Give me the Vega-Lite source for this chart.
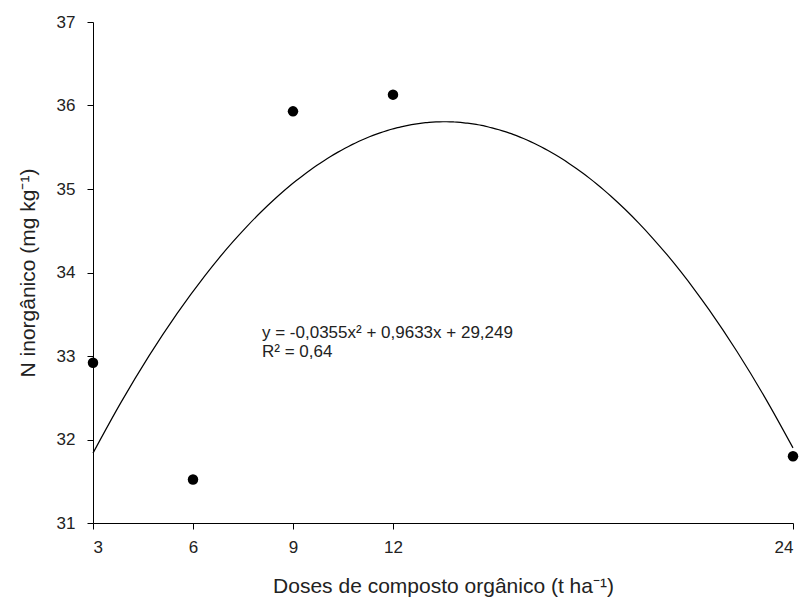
{
  "$schema": "https://vega.github.io/schema/vega-lite/v6.json",
  "width": 700,
  "height": 501,
  "autosize": "none",
  "padding": {"left": 93, "top": 22, "right": 12, "bottom": 84},
  "background": "white",
  "config": {
    "view": {"stroke": null},
    "font": "Liberation Sans",
    "axis": {
      "grid": false,
      "domainColor": "black",
      "tickColor": "black",
      "labelColor": "#222",
      "titleColor": "#222",
      "labelFont": "Liberation Sans",
      "titleFont": "Liberation Sans",
      "labelFontSize": 17,
      "titleFontSize": 21,
      "titleFontWeight": "normal",
      "tickSize": 6
    }
  },
  "datasets": {
    "pts": [
      {"dose": 3, "n": 32.92},
      {"dose": 6, "n": 31.52},
      {"dose": 9, "n": 35.93},
      {"dose": 12, "n": 36.13},
      {"dose": 24, "n": 31.8}
    ],
    "eq": [
      {"x": 8.07, "y": 33.28, "label": "y = -0,0355x² + 0,9633x + 29,249"},
      {"x": 8.07, "y": 33.05, "label": "R² = 0,64"}
    ]
  },
  "layer": [
    {
      "data": {"name": "pts"},
      "transform": [
        {"regression": "n", "on": "dose", "method": "poly", "order": 2, "extent": [3, 24]}
      ],
      "mark": {"type": "line", "color": "black", "strokeWidth": 1.2, "interpolate": "monotone"},
      "encoding": {
        "x": {"field": "dose", "type": "quantitative"},
        "y": {"field": "n", "type": "quantitative"}
      }
    },
    {
      "data": {"name": "pts"},
      "mark": {"type": "point", "filled": true, "color": "black", "opacity": 1, "size": 110},
      "encoding": {
        "x": {
          "field": "dose",
          "type": "quantitative",
          "scale": {"domain": [3, 24], "nice": false, "zero": false},
          "axis": {
            "values": [3, 6, 9, 12, 24],
            "title": "Doses de composto orgânico (t ha⁻¹)",
            "labelPadding": 10,
            "titlePadding": 20
          }
        },
        "y": {
          "field": "n",
          "type": "quantitative",
          "scale": {"domain": [31, 37], "nice": false, "zero": false},
          "axis": {
            "values": [31, 32, 33, 34, 35, 36, 37],
            "format": "d",
            "title": "N inorgânico (mg kg⁻¹)",
            "labelPadding": 12,
            "titlePadding": 18
          }
        }
      }
    },
    {
      "data": {"name": "eq"},
      "mark": {"type": "text", "align": "left", "baseline": "middle", "fontSize": 17, "color": "#222", "font": "Liberation Sans"},
      "encoding": {
        "x": {"field": "x", "type": "quantitative"},
        "y": {"field": "y", "type": "quantitative"},
        "text": {"field": "label"}
      }
    }
  ]
}
